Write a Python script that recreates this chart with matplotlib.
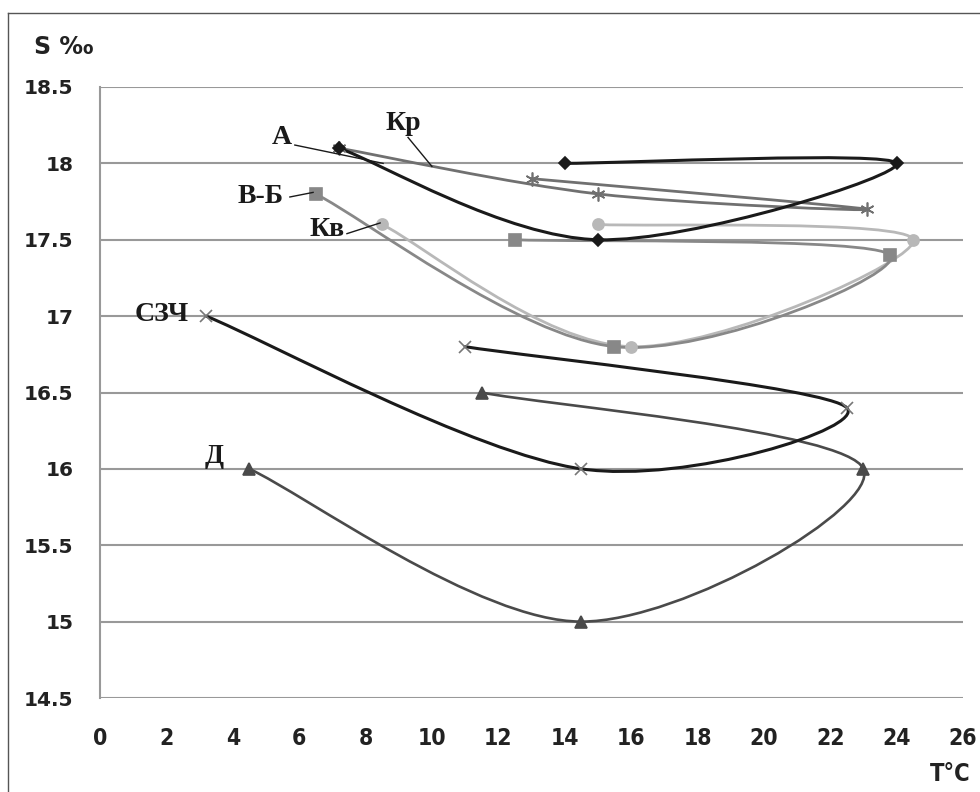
import numpy as np
import matplotlib
matplotlib.use("Agg")
import matplotlib.pyplot as plt
from matplotlib.path import Path
from matplotlib.patches import PathPatch
from matplotlib.lines import Line2D

# --- data: temperature (T, °C) and salinity (S, ‰) per water mass ---
a_t = [7.2, 15.0, 24.0, 14.0]
a_s = [18.1, 17.5, 18.0, 18.0]

kr_t = [7.2, 15.0, 23.1, 13.0]
kr_s = [18.1, 17.8, 17.7, 17.9]

vb_t = [6.5, 15.5, 23.8, 12.5]
vb_s = [17.8, 16.8, 17.4, 17.5]

kv_t = [8.5, 16.0, 24.5, 15.0]
kv_s = [17.6, 16.8, 17.5, 17.6]

szch_t = [3.2, 14.5, 22.5, 11.0]
szch_s = [17.0, 16.0, 16.4, 16.8]

d_t = [4.5, 14.5, 23.0, 11.5]
d_s = [16.0, 15.0, 16.0, 16.5]

x_ticks = list(range(0, 27, 2))
y_ticks = [14.5, 15, 15.5, 16, 16.5, 17, 17.5, 18, 18.5]


def smooth_path(xs, ys):
    """Excel-like smoothed line: cubic bezier through the points"""
    pts = np.column_stack([xs, ys]).astype(float)
    n = len(pts)
    verts = [pts[0]]
    codes = [Path.MOVETO]
    for i in range(n - 1):
        p0 = pts[max(i - 1, 0)]
        p1 = pts[i]
        p2 = pts[i + 1]
        p3 = pts[min(i + 2, n - 1)]
        verts += [p1 + (p2 - p0) / 6, p2 - (p3 - p1) / 6, p2]
        codes += [Path.CURVE4] * 3
    return Path(verts, codes)


fig = plt.figure(figsize=(9.8, 7.92), dpi=100)
ax = fig.add_axes([100 / 980, 1 - 698 / 792, 863 / 980, 611 / 792])

series = [
    # t, s, line colour, lw, marker, marker colour, marker size
    (kv_t, kv_s, "#b8b8b8", 2.0, "o", "#b8b8b8", 8),
    (vb_t, vb_s, "#888888", 2.0, "s", "#888888", 8),
    (kr_t, kr_s, "#707070", 2.0, (6, 2, 0), "#707070", 10),
    (a_t, a_s, "#1a1a1a", 2.2, "D", "#1a1a1a", 6),
    (d_t, d_s, "#4a4a4a", 1.9, "^", "#4a4a4a", 8),
    (szch_t, szch_s, "#1a1a1a", 2.2, "x", "#777777", 9),
]

for t, s, col, lw, mk, mcol, ms in series:
    ax.add_patch(PathPatch(smooth_path(t, s), fill=False, edgecolor=col,
                           lw=lw, capstyle="round", joinstyle="round", zorder=3))
    ax.plot(t, s, linestyle="none", marker=mk, color=mcol, markersize=ms,
            markeredgewidth=1.2, zorder=4)

ax.set_xlim(0, 26)
ax.set_ylim(14.5, 18.5)
ax.set_xticks(x_ticks)
ax.set_yticks(y_ticks)
ax.set_xticklabels([str(v) for v in x_ticks])
ax.set_yticklabels([f"{v:g}" for v in y_ticks])
ax.grid(axis="y", color="#999999", lw=1.5, zorder=0)
ax.grid(axis="x", visible=False)
for side in ["top", "right", "bottom"]:
    ax.spines[side].set_visible(False)
ax.spines["left"].set_color("#999999")
ax.spines["left"].set_linewidth(1.5)
ax.tick_params(length=0)
ax.tick_params(axis="y", pad=19)
ax.tick_params(axis="x", pad=21)
for lab in ax.get_yticklabels():
    lab.set_fontfamily("DejaVu Sans")
    lab.set_fontweight("bold")
    lab.set_fontsize(14.5)
    lab.set_color("#222222")
for lab in ax.get_xticklabels():
    lab.set_fontfamily(["Liberation Sans Narrow", "DejaVu Sans"])
    lab.set_fontstretch("condensed")
    lab.set_fontweight("bold")
    lab.set_fontsize(16.5)
    lab.set_color("#222222")

# series labels with leader lines
serif = dict(family="Liberation Serif", fontweight="bold", fontsize=20,
             color="#1a1a1a", ha="center", va="center")
ax.text(5.48, 18.17, "А", **serif)
ax.text(9.13, 18.26, "Кр", **serif)
ax.text(4.85, 17.78, "В-Б", **serif)
ax.text(6.85, 17.57, "Кв", **serif)
ax.text(1.85, 17.01, "СЗЧ", **serif)
ax.text(3.43, 16.08, "Д", **serif)
leaders = [((5.87, 8.53), (18.12, 18.0)),
           ((9.28, 10.0), (18.17, 17.98)),
           ((5.72, 6.42), (17.78, 17.81)),
           ((7.44, 8.44), (17.54, 17.61))]
for lx, ly in leaders:
    ax.plot(lx, ly, color="#1a1a1a", lw=1.0, zorder=5)

fig.text(64 / 980, 1 - 47 / 792, "S ‰", family="DejaVu Sans", fontweight="bold",
         fontsize=17, color="#222222", ha="center", va="center")
fig.text(950 / 980, 1 - 774 / 792, "T°C", family=["Liberation Sans Narrow", "DejaVu Sans"],
         fontstretch="condensed", fontweight="bold", fontsize=17, color="#222222",
         ha="center", va="center")

# outer frame
fig.add_artist(Line2D([8 / 980, 8 / 980], [0, 1 - 13 / 792], transform=fig.transFigure,
                      color="#555555", lw=1.0))
fig.add_artist(Line2D([8 / 980, 1], [1 - 13 / 792, 1 - 13 / 792], transform=fig.transFigure,
                      color="#555555", lw=1.0))

fig.savefig("out.png", dpi=100)
